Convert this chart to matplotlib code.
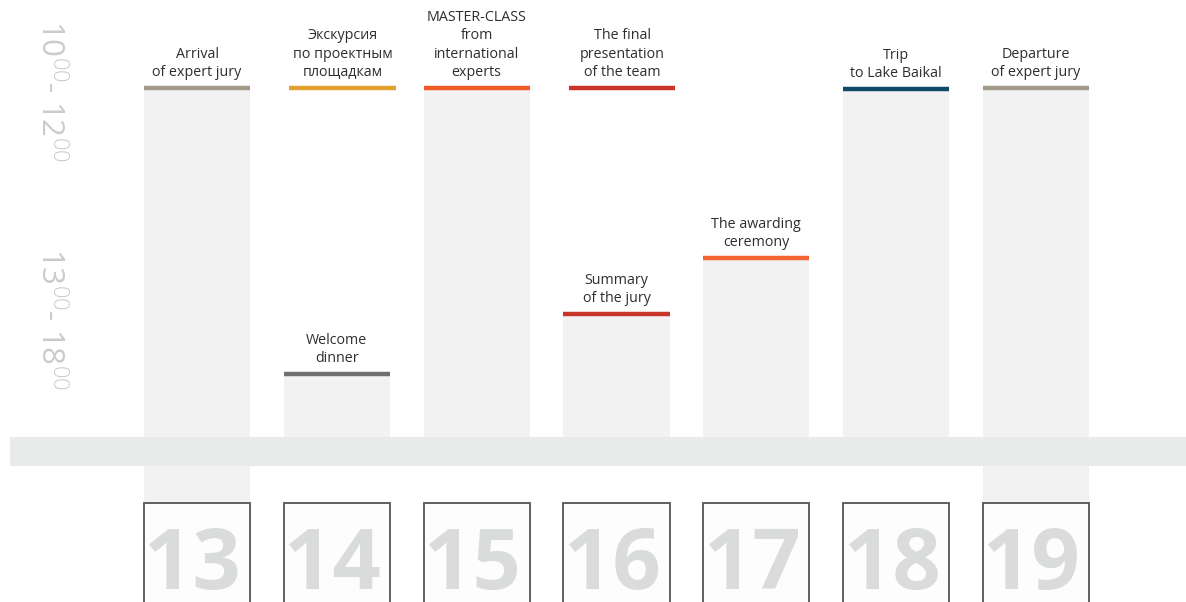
import matplotlib.pyplot as plt
from matplotlib.patches import Rectangle

plt.rcParams['font.family'] = ['Open Sans', 'DejaVu Sans']
plt.rcParams['mathtext.fontset'] = 'custom'
plt.rcParams['mathtext.rm'] = 'Open Sans:light'

# days and events (level = height of the event line above the base band)
days = [13, 14, 15, 16, 17, 18, 19]
ev_day = [13, 14, 14, 15, 16, 16, 17, 18, 19]
ev_level = [349, 349, 63, 349, 349, 123, 179, 348, 349]
ev_label = ["Arrival\nof expert jury",
            "Экскурсия\nпо проектным\nплощадкам",
            "Welcome\ndinner",
            "MASTER-CLASS\nfrom\ninternational\nexperts",
            "The final\npresentation\nof the team",
            "Summary\nof the jury",
            "The awarding\nceremony",
            "Trip\nto Lake Baikal",
            "Departure\nof expert jury"]
ev_color = ["#a39a8b", "#e0a12e", "#6f6f6f", "#f15a29", "#c9332a",
            "#c8352b", "#f26531", "#0f4a66", "#a39a8b"]
ev_bar = [True, False, True, True, False, True, True, True, True]
ev_shift = [0, 0.04, 0, 0, 0.04, 0, 0, 0, 0]
long_days = [13, 19]   # bars that run down to the day box
time_labels = [r"10$^{00}$- 12$^{00}$", r"13$^{00}$- 18$^{00}$"]
time_pos = [346, 118]

fig = plt.figure(figsize=(11.86, 6.02), dpi=100)
ax = fig.add_axes([0, 0, 1, 1])
ax.set_xlim(11.591, 20.073)
ax.set_ylim(-165, 437)
ax.axis('off')

w = 0.76
for d, lv, lab, c, hb, sh in zip(ev_day, ev_level, ev_label, ev_color, ev_bar, ev_shift):
    if hb:
        bottom = -66 if d in long_days else 0
        ax.bar(d, lv - bottom, bottom=bottom, width=w, color="#f2f2f2", zorder=1)
    ax.plot([d + sh - w / 2, d + sh + w / 2], [lv, lv], color=c, lw=3.2,
            solid_capstyle='butt', zorder=3)
    ax.text(d + sh, lv + 8, lab, ha='center', va='bottom', fontsize=10.3,
            color="#2e2e2e", linespacing=1.3, zorder=4)

# base band
ax.axhspan(-29, 0, xmin=10 / 1186, xmax=1, color="#e9eaea", zorder=2, lw=0)

# day boxes
for d in days:
    ax.add_patch(Rectangle((d - w / 2, -180), w, 114, facecolor="#fdfdfd",
                           edgecolor="#555555", lw=1.3, zorder=3))
    ax.text(d - 0.03, -152, str(d), ha='center', va='baseline', fontsize=61,
            fontweight='bold', color="#dadbdb", zorder=4)

# time labels on the left
for t, y in zip(time_labels, time_pos):
    ax.text(11.95, y, t, rotation=-90, ha='center', va='center',
            fontsize=22.5, color="#cbcbcb")

fig.savefig("out.png", dpi=100)
